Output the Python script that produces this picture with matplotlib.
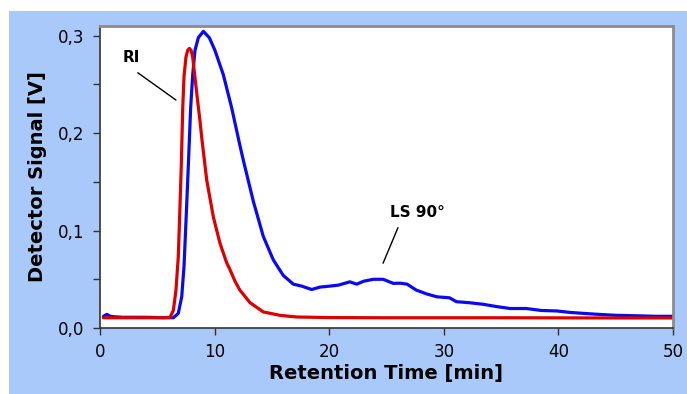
import matplotlib
matplotlib.use("Agg")
import matplotlib.pyplot as plt
from matplotlib.patches import Rectangle

# Retention time [min] and signal [V]
ri_t = [0.3, 2, 4, 5.5, 6.11, 6.40, 6.63, 6.83, 6.98, 7.10, 7.22, 7.33, 7.5, 7.65, 7.80,
        7.95, 8.09, 8.26, 8.49, 8.73, 8.90, 9.31, 9.89, 10.47, 11.05, 11.34, 11.78, 12.2,
        13.09, 14.25, 15.7, 17.15, 20, 25, 30, 35, 40, 45, 50]
ri_v = [0.0105, 0.0105, 0.0105, 0.0105, 0.011, 0.018, 0.039, 0.073, 0.125, 0.170, 0.226,
        0.258, 0.278, 0.285, 0.287, 0.285, 0.278, 0.260, 0.236, 0.212, 0.193, 0.152, 0.114,
        0.087, 0.067, 0.060, 0.048, 0.039, 0.026, 0.0165, 0.013, 0.0113, 0.0107, 0.0105,
        0.0105, 0.0105, 0.0104, 0.0103, 0.0103]

ls_t = [0.3, 0.6, 0.9, 1.3, 2, 4, 6.0, 6.40, 6.83, 7.13, 7.33, 7.56, 7.80, 7.91, 8.09, 8.29,
        8.58, 9.02, 9.54, 10.03, 10.76, 11.49, 12.16, 12.51, 13.38, 14.25, 15.12, 15.99,
        16.87, 17.6, 18.47, 19.2, 20.06, 20.8, 21.8, 22.4, 23.0, 23.85, 24.7, 25.6, 26.2,
        26.8, 27.6, 28.5, 29.4, 30.5, 31.1, 32.2, 33.4, 34.6, 35.8, 37.2, 38.5, 39.85, 41.0,
        42.2, 43.5, 45.1, 47.0, 48.5, 50.0]
ls_v = [0.012, 0.014, 0.012, 0.0115, 0.011, 0.011, 0.0105, 0.0105, 0.015, 0.032, 0.063,
        0.125, 0.1935, 0.226, 0.260, 0.285, 0.298, 0.3045, 0.298, 0.285, 0.260, 0.226, 0.190,
        0.172, 0.130, 0.094, 0.070, 0.054, 0.045, 0.043, 0.0395, 0.042, 0.043, 0.044, 0.0474,
        0.045, 0.048, 0.050, 0.050, 0.0458, 0.046, 0.045, 0.0389, 0.035, 0.032, 0.031, 0.027,
        0.026, 0.0244, 0.022, 0.020, 0.020, 0.018, 0.0175, 0.016, 0.015, 0.014, 0.013,
        0.0125, 0.012, 0.012]

xticks = [0, 10, 20, 30, 40, 50]
yticks = [0.0, 0.1, 0.2, 0.3]
ytick_labels = ["0,0", "0,1", "0,2", "0,3"]

fig = plt.figure(figsize=(6.87, 3.94), dpi=100)
fig.patch.set_facecolor("white")
fig.patches.append(Rectangle((9 / 687, 0), 1, 1 - 11 / 394, transform=fig.transFigure,
                             facecolor="#a9c9fb", edgecolor="none", zorder=-10))

ax = fig.add_axes([100 / 687, 1 - 328 / 394, 573 / 687, 302 / 394])
ax.set_facecolor("white")

ax.plot(ls_t, ls_v, color="#0a0af0", lw=2.3, solid_joinstyle="round", solid_capstyle="round")
ax.plot(ri_t, ri_v, color="#dc0000", lw=2.3, solid_joinstyle="round", solid_capstyle="round")

ax.set_xlim(0, 50)
ax.set_ylim(0, 0.31)
ax.set_xticks(xticks)
ax.set_xticklabels([str(v) for v in xticks], fontsize=12)
ax.set_yticks(yticks)
ax.set_yticklabels(ytick_labels, fontsize=12)
ax.set_yticks([0.05, 0.15, 0.25], minor=True)
ax.tick_params(axis="both", which="both", direction="out", color="#333333", width=1)
ax.tick_params(axis="both", which="major", length=5, pad=6)
ax.tick_params(axis="y", which="minor", length=5)

for side in ["left", "bottom"]:
    ax.spines[side].set_color("#333333")
    ax.spines[side].set_linewidth(1.2)
for side in ["top", "right"]:
    ax.spines[side].set_color("#8c8c8c")
    ax.spines[side].set_linewidth(2)

ax.set_xlabel("Retention Time [min]", fontsize=14, fontweight="bold", labelpad=2)
ax.set_ylabel("Detector Signal [V]", fontsize=14, fontweight="bold", labelpad=8)

# Labels with leader lines
ax.text(2.7, 0.278, "RI", fontsize=11, fontweight="bold", ha="center", va="center")
ax.annotate("", xy=(6.63, 0.234), xytext=(3.3, 0.262),
            arrowprops=dict(arrowstyle="-", color="black", lw=1, shrinkA=0, shrinkB=0))
ax.text(27.7, 0.119, "LS 90°", fontsize=11, fontweight="bold", ha="center", va="center")
ax.annotate("", xy=(24.7, 0.0665), xytext=(26.0, 0.103),
            arrowprops=dict(arrowstyle="-", color="black", lw=1, shrinkA=0, shrinkB=0))

fig.savefig("out.png", dpi=100)
